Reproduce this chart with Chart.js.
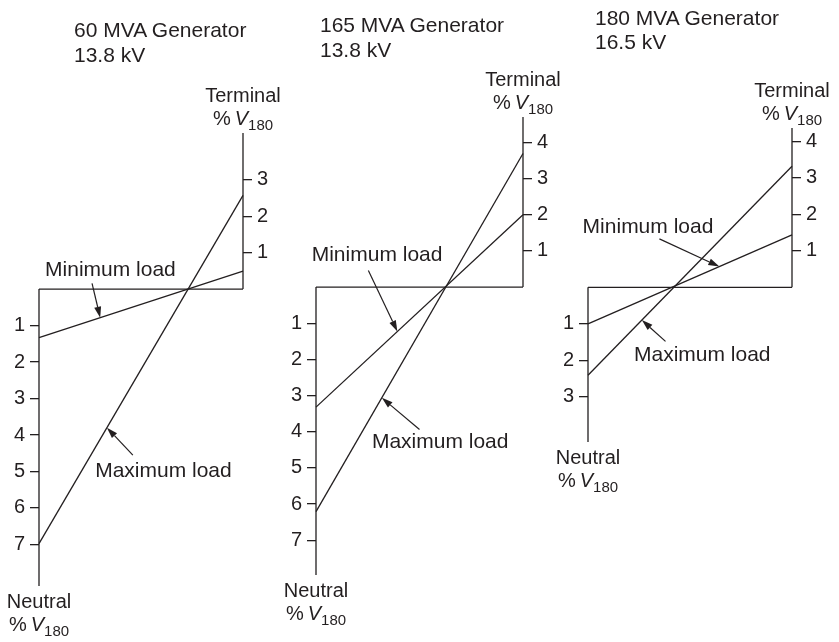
<!DOCTYPE html>
<html>
<head>
<meta charset="utf-8">
<title>Neutral and terminal voltage, three generators</title>
<script src="https://cdn.jsdelivr.net/npm/chart.js@4.4.1/dist/chart.umd.min.js"></script>
<style>
body { margin: 0; background: #fff; }
#wrap { position: relative; width: 839px; height: 642px; overflow: hidden; font-family: "Liberation Sans", Arial, Helvetica, sans-serif; color: #231f20; }
canvas { position: absolute; left: 0; top: 0; }
.title { position: absolute; font-size: 21px; line-height: 25px; white-space: nowrap; }
.cap { position: absolute; width: 140px; text-align: center; font-size: 20px; line-height: 23px; white-space: nowrap; }
.cap sub { font-size: 15px; vertical-align: -5px; line-height: 0; }
</style>
</head>
<body>
<div id="wrap"></div>
<script>
var generatorRatings = ['60 MVA Generator', '165 MVA Generator', '180 MVA Generator'];
var ratedVoltages = ['13.8 kV', '13.8 kV', '16.5 kV'];
var seriesNames = ['Minimum load', 'Maximum load'];
// %V180 read at the neutral end (left) and terminal end (right)
var minLoadNeutral = [1.33, 3.32, 1.0];
var minLoadTerminal = [0.49, 2.0, 1.44];
var maxLoadNeutral = [6.98, 6.21, 2.41];
var maxLoadTerminal = [2.57, 3.69, 3.32];
var neutralTicks = [[1, 2, 3, 4, 5, 6, 7], [1, 2, 3, 4, 5, 6, 7], [1, 2, 3]];
var terminalTicks = [[1, 2, 3], [1, 2, 3, 4], [1, 2, 3, 4]];
var neutralAxisEnd = [8.14, 7.96, 4.24];
var terminalAxisEnd = [4.28, 4.70, 4.37];

var ink = '#231f20';
var fontFamily = '"Liberation Sans", Arial, Helvetica, sans-serif';
var W = 839, H = 642, axisW = 30;

// where each panel's plot box sits on the page
var panelBox = [
    {left: 39, right: 243, top: 133, bottom: 586, titleX: 74, titleY: 17, titleLh: 25},
    {left: 316, right: 523, top: 117, bottom: 575, titleX: 320, titleY: 12, titleLh: 25},
    {left: 588, right: 792, top: 128, bottom: 442, titleX: 595, titleY: 6, titleLh: 24}
];
// label + arrow placement, in data units (x: 0 = neutral, 1 = terminal)
var notePlace = [
    [{tx: 0.35, ty: 0.52, sx: 0.26, sy: 0.16, t: 0.30}, {tx: 0.61, ty: -4.98, sx: 0.46, sy: -4.55, t: 0.333}],
    [{tx: 0.295, ty: 0.88, sx: 0.253, sy: 0.46, t: 0.393}, {tx: 0.60, ty: -4.28, sx: 0.50, sy: -3.94, t: 0.318}],
    [{tx: 0.294, ty: 1.66, sx: 0.35, sy: 1.33, t: 0.644}, {tx: 0.56, ty: -1.86, sx: 0.38, sy: -1.48, t: 0.264}]
];

function leaderPlugin(notes) {
    return {
        id: 'leaders',
        afterDatasetsDraw: function (chart) {
            var ctx = chart.ctx, xs = chart.scales.x, ys = chart.scales.y;
            ctx.save();
            ctx.fillStyle = ink;
            ctx.strokeStyle = ink;
            ctx.lineWidth = 1.2;
            ctx.font = '21px ' + fontFamily;
            ctx.textAlign = 'center';
            ctx.textBaseline = 'middle';
            notes.forEach(function (n) {
                ctx.fillText(n.text, xs.getPixelForValue(n.tx), ys.getPixelForValue(n.ty));
                var x0 = xs.getPixelForValue(n.sx), y0 = ys.getPixelForValue(n.sy);
                var x1 = xs.getPixelForValue(n.t), y1 = ys.getPixelForValue(n.a + (n.b - n.a) * n.t);
                var ang = Math.atan2(y1 - y0, x1 - x0), head = 11, half = 3.5;
                var bx = x1 - head * Math.cos(ang), by = y1 - head * Math.sin(ang);
                ctx.beginPath();
                ctx.moveTo(x0, y0);
                ctx.lineTo(bx, by);
                ctx.stroke();
                ctx.beginPath();
                ctx.moveTo(x1, y1);
                ctx.lineTo(bx + half * Math.sin(ang), by - half * Math.cos(ang));
                ctx.lineTo(bx - half * Math.sin(ang), by + half * Math.cos(ang));
                ctx.closePath();
                ctx.fill();
            });
            ctx.restore();
        }
    };
}

function addText(cls, html, left, top, extra) {
    var d = document.createElement('div');
    d.className = cls;
    d.innerHTML = html;
    d.style.left = left + 'px';
    d.style.top = top + 'px';
    if (extra) d.style.lineHeight = extra + 'px';
    document.getElementById('wrap').appendChild(d);
}

function makePanel(i) {
    var box = panelBox[i];
    var wrap = document.getElementById('wrap');
    var cv = document.createElement('canvas');
    cv.width = W;
    cv.height = H;
    wrap.appendChild(cv);

    var lo = -neutralAxisEnd[i], hi = terminalAxisEnd[i];
    var lines = [
        [{x: 0, y: 0}, {x: 1, y: 0}],
        [{x: 0, y: 0}, {x: 0, y: lo}],
        [{x: 1, y: 0}, {x: 1, y: hi}],
        [{x: 0, y: -minLoadNeutral[i]}, {x: 1, y: minLoadTerminal[i]}],
        [{x: 0, y: -maxLoadNeutral[i]}, {x: 1, y: maxLoadTerminal[i]}]
    ];
    var labels = ['', '', '', seriesNames[0], seriesNames[1]];
    var datasets = lines.map(function (pts, k) {
        return {label: labels[k], data: pts, borderColor: ink, borderWidth: 1.3, pointRadius: 0, fill: false, tension: 0, clip: false};
    });

    var notes = [
        {text: seriesNames[0], a: -minLoadNeutral[i], b: minLoadTerminal[i]},
        {text: seriesNames[1], a: -maxLoadNeutral[i], b: maxLoadTerminal[i]}
    ].map(function (n, k) { return Object.assign(n, notePlace[i][k]); });

    var leftShown = function (v) { return neutralTicks[i].indexOf(-v) >= 0; };
    var rightShown = function (v) { return terminalTicks[i].indexOf(v) >= 0; };
    function yAxis(pos, shown, fmt) {
        return {
            type: 'linear', position: pos, min: lo, max: hi,
            afterFit: function (s) { s.width = axisW; },
            border: {display: false},
            grid: {
                drawOnChartArea: false, drawTicks: true, tickLength: 9, lineWidth: 1.3,
                color: function (c) { return c.tick && shown(c.tick.value) ? ink : 'rgba(0,0,0,0)'; }
            },
            ticks: {
                stepSize: 1, autoSkip: false, includeBounds: false, padding: 5, color: ink,
                font: {size: 20, family: fontFamily},
                callback: function (v) { return shown(v) ? fmt(v) : null; }
            }
        };
    }

    new Chart(cv, {
        type: 'line',
        data: {datasets: datasets},
        options: {
            responsive: false,
            animation: false,
            devicePixelRatio: 1,
            events: [],
            layout: {padding: {left: box.left - axisW, right: W - box.right - axisW, top: box.top, bottom: H - box.bottom}},
            plugins: {legend: {display: false}, title: {display: false}, tooltip: {enabled: false}},
            scales: {
                x: {type: 'linear', min: 0, max: 1, display: false},
                y: yAxis('left', leftShown, function (v) { return String(-v); }),
                y2: yAxis('right', rightShown, function (v) { return String(v); })
            }
        },
        plugins: [leaderPlugin(notes)]
    });

    addText('title', generatorRatings[i] + '<br>' + ratedVoltages[i], box.titleX, box.titleY, box.titleLh);
    var pv = '%\u2009<i>V</i><sub>180</sub>';
    addText('cap', 'Terminal<br>' + pv, box.right - 70, box.top - 49);
    addText('cap', 'Neutral<br>' + pv, box.left - 70, box.bottom + 4);
}

for (var p = 0; p < 3; p++) {
    makePanel(p);
}
</script>
</body>
</html>
